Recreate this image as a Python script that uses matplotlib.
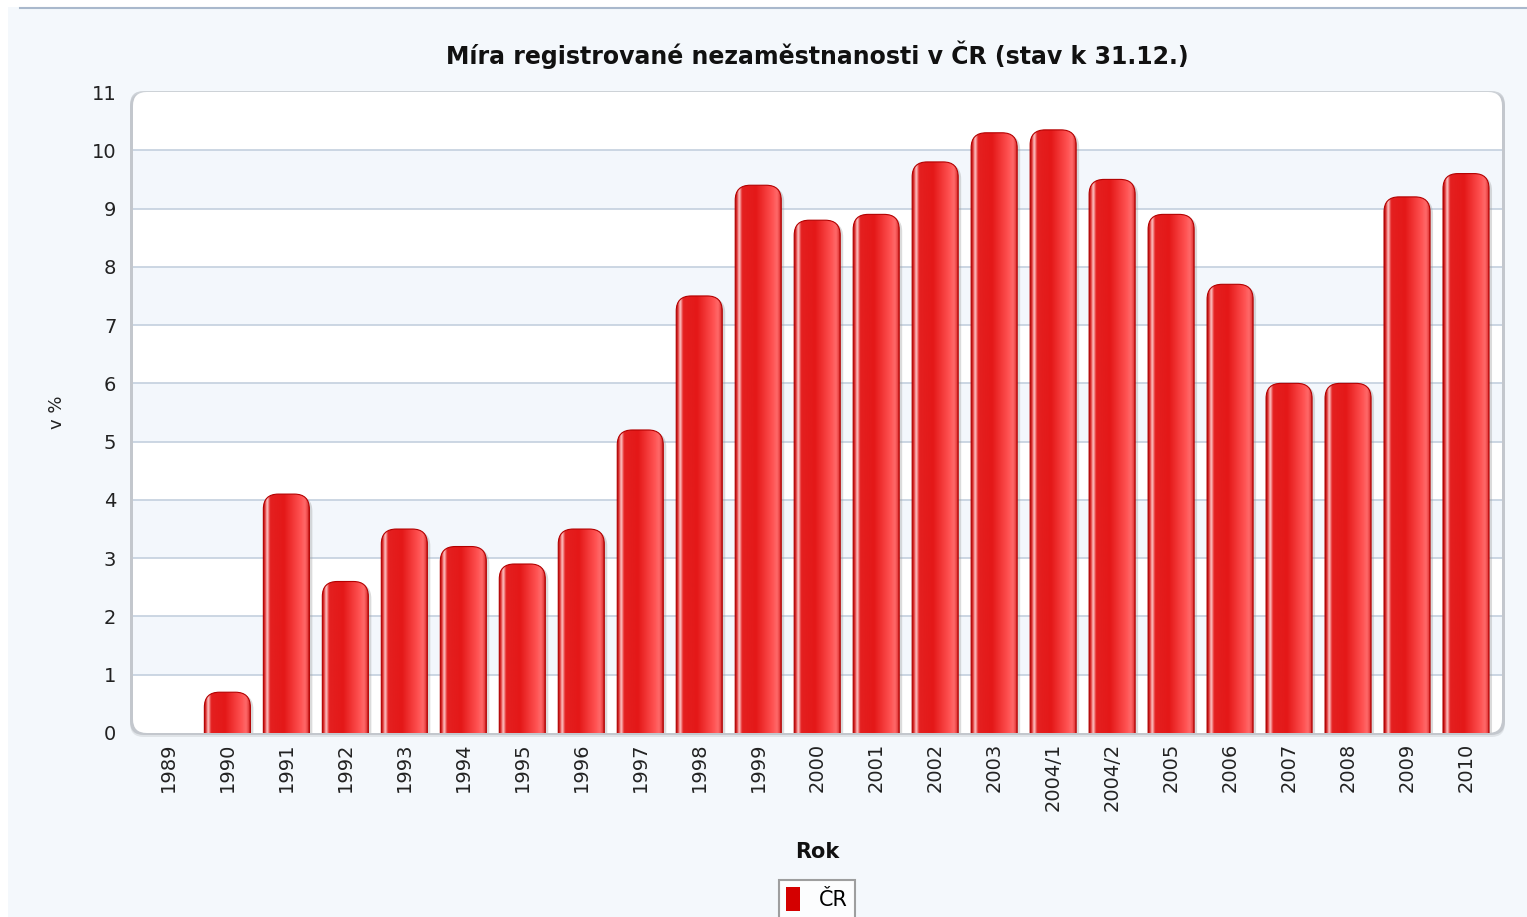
import matplotlib
matplotlib.use("Agg")
import matplotlib.pyplot as plt
import numpy as np
from matplotlib.patches import FancyBboxPatch, Rectangle
from matplotlib.colors import LinearSegmentedColormap
from matplotlib.lines import Line2D

categories = ["1989", "1990", "1991", "1992", "1993", "1994", "1995", "1996", "1997",
              "1998", "1999", "2000", "2001", "2002", "2003", "2004/1", "2004/2",
              "2005", "2006", "2007", "2008", "2009", "2010"]
values = [0.0, 0.7, 4.1, 2.6, 3.5, 3.2, 2.9, 3.5, 5.2, 7.5, 9.4, 8.8, 8.9, 9.8,
          10.3, 10.35, 9.5, 8.9, 7.7, 6.0, 6.0, 9.2, 9.6]
yticks = list(range(0, 12))
title = "Míra registrované nezaměstnanosti v ČR (stav k 31.12.)"
xlabel = "Rok"
ylabel = "v %"
series_name = "ČR"

W, H = 1527, 917
fig = plt.figure(figsize=(W / 100, H / 100), dpi=100)
fig.patch.set_facecolor("#f4f8fc")

# top white strip + line, left white strip
fig.patches.append(Rectangle((0, 1 - 7 / H), 1, 7 / H, transform=fig.transFigure,
                             facecolor="white", edgecolor="none", zorder=0))
fig.patches.append(Rectangle((0, 0), 8 / W, 1, transform=fig.transFigure,
                             facecolor="white", edgecolor="none", zorder=0))
fig.lines.append(Line2D([20 / W, 1], [1 - 7.5 / H, 1 - 7.5 / H], transform=fig.transFigure,
                        color="#a9b8cc", lw=1.5, zorder=1))

L, R, T, B = 133, 1502, 92, 733
ax_rect = [L / W, 1 - B / H, (R - L) / W, (B - T) / H]

# shadow + white rounded plot background
for dy, c, a in [(-4, "#b8bcc2", 0.35), (-2, "#a8adb4", 0.5)]:
    fig.patches.append(FancyBboxPatch((ax_rect[0] - 3 / W, ax_rect[1] + dy / H),
                                      ax_rect[2] + 6 / W, ax_rect[3] + 3 / H,
                                      boxstyle="round,pad=0,rounding_size=0.009",
                                      mutation_aspect=W / H,
                                      transform=fig.transFigure, facecolor=c, alpha=a,
                                      edgecolor="none", zorder=1))
fig.patches.append(FancyBboxPatch((ax_rect[0], ax_rect[1]), ax_rect[2], ax_rect[3],
                                  boxstyle="round,pad=0,rounding_size=0.009",
                                  mutation_aspect=W / H,
                                  transform=fig.transFigure, facecolor="white",
                                  edgecolor="none", zorder=2))

ax = fig.add_axes(ax_rect)
ax.set_facecolor("none")
ax.set_zorder(3)
for s in ax.spines.values():
    s.set_visible(False)

x = np.arange(len(categories))
xlim = (-0.6, len(categories) - 1 + 0.61)
ylim = (0, 11)

# alternating bands and grid lines
for k in range(0, 11):
    if k % 2 == 1:
        ax.axhspan(k, k + 1, color="#f3f7fc", zorder=0, lw=0)
for k in yticks[1:-1]:
    ax.axhline(k, color="#c3d0de", lw=1.2, zorder=1)

bw = 0.78
bars = ax.bar(x, values, width=bw, color="none", edgecolor="none", zorder=2)

cmap = LinearSegmentedColormap.from_list("barg", [
    (0.0, "#a80000"), (0.04, "#e03030"), (0.09, "#ffd0d0"), (0.15, "#e42020"),
    (0.45, "#e41818"), (0.80, "#ff5252"), (0.90, "#ff6a6a"), (0.96, "#e53b3b"),
    (1.0, "#a00000")])
grad = np.linspace(0, 1, 256).reshape(1, -1)

px_x = (xlim[1] - xlim[0]) / (R - L)
px_y = (ylim[1] - ylim[0]) / (B - T)
asp = px_y / px_x
rs = 15 * px_x

for b in bars:
    h = b.get_height()
    if h <= 0:
        continue
    x0, w = b.get_x(), b.get_width()
    # shadow
    sh = FancyBboxPatch((x0 + 3 * px_x, -0.5), w, h + 0.5 - 2 * px_y,
                        boxstyle=f"round,pad=0,rounding_size={rs}", mutation_aspect=asp,
                        facecolor="#9a9a9a", alpha=0.35, edgecolor="none", zorder=2)
    ax.add_patch(sh)
    p = FancyBboxPatch((x0, -0.5), w, h + 0.5,
                       boxstyle=f"round,pad=0,rounding_size={rs}", mutation_aspect=asp,
                       facecolor="none", edgecolor="#b30000", lw=0.8, zorder=4)
    ax.add_patch(p)
    im = ax.imshow(grad, cmap=cmap, extent=(x0, x0 + w, 0, h), aspect="auto",
                   interpolation="bicubic", zorder=3)
    im.set_clip_path(p)

ax.set_xlim(*xlim)
ax.set_ylim(*ylim)
ax.set_yticks(yticks)
ax.set_yticklabels([str(t) for t in yticks], fontsize=14, color="#222222")
ax.set_xticks(x)
ax.set_xticklabels(categories, rotation=90, fontsize=14, color="#222222", va="top")
ax.tick_params(axis="both", length=0)
ax.tick_params(axis="y", pad=12)
ax.tick_params(axis="x", pad=7)

fig.text(817 / W, 1 - 55 / H, title, ha="center", va="center", fontsize=17,
         fontweight="bold", color="#111111")
fig.text(817 / W, 1 - 852 / H, xlabel, ha="center", va="center", fontsize=15,
         fontweight="bold", color="#111111")
fig.text(57 / W, 1 - 412 / H, ylabel, ha="center", va="center", fontsize=13,
         rotation=90, color="#222222")

handle = Rectangle((0, 0), 1, 1, facecolor="#d40000", edgecolor="none")
leg = fig.legend([handle], [series_name], loc="upper center",
                 bbox_to_anchor=(817 / W, 1 - 880 / H), fontsize=15, frameon=True,
                 fancybox=False, edgecolor="#888888", handlelength=0.7, handleheight=1.4,
                 handletextpad=0.9, borderpad=0.35, borderaxespad=0)
leg.get_frame().set_facecolor("white")
leg.get_frame().set_linewidth(1.5)

fig.savefig("out.png", dpi=100, facecolor=fig.get_facecolor())
